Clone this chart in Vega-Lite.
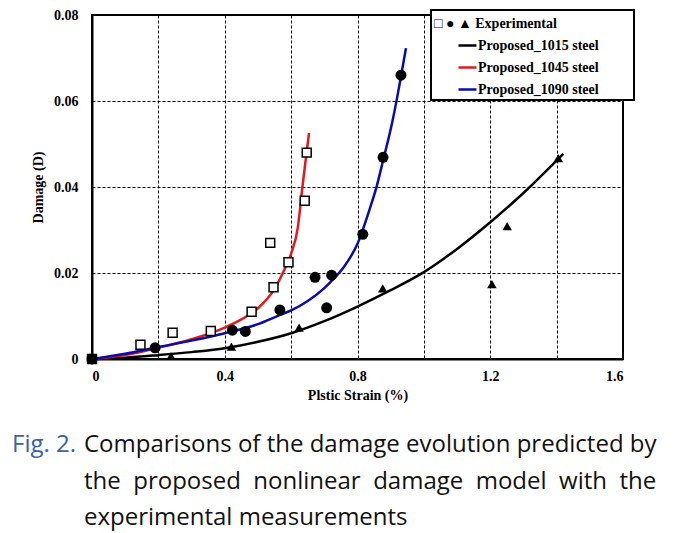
{
  "$schema": "https://vega.github.io/schema/vega-lite/v6.json",
  "width": 531,
  "height": 344,
  "autosize": {"type": "none"},
  "padding": {"left": 92, "top": 15, "right": 50, "bottom": 174},
  "background": "white",
  "config": {
    "view": {"stroke": "black", "strokeWidth": 2},
    "axis": {
      "labelFont": "Liberation Serif", "labelFontWeight": "bold", "labelFontSize": 14, "labelColor": "black",
      "titleFont": "Liberation Serif", "titleFontWeight": "bold", "titleFontSize": 14, "titleColor": "black",
      "domainColor": "black", "domainWidth": 2,
      "gridColor": "black", "gridDash": [3, 2], "gridWidth": 1, "gridOpacity": 1,
      "ticks": false
    },
    "legend": {
      "labelFont": "Liberation Serif", "labelFontWeight": "bold", "labelFontSize": 14, "labelColor": "black"
    }
  },
  "title": {
    "text": "Fig. 2.",
    "subtitle": [
      "\u200b\u2003\u2003\u2003Comparisons of the damage evolution predicted by",
      "\u200b\u2003\u2003\u2003the\u00a0 proposed\u00a0 nonlinear\u00a0 damage\u00a0 model\u00a0 with\u00a0 the",
      "\u200b\u2003\u2003\u2003experimental measurements"
    ],
    "orient": "bottom", "anchor": "start", "frame": "group",
    "dx": -80, "offset": 31,
    "font": "Open Sans", "fontSize": 24, "fontWeight": "normal", "color": "#3a62a6",
    "subtitleFont": "Open Sans", "subtitleFontSize": 24, "subtitleColor": "#111111",
    "subtitlePadding": -24, "subtitleLineHeight": 36.5
  },
  "datasets": {
    "curves": [
      {"model": "Proposed_1015 steel", "strain": 0, "damage": 0},
      {"model": "Proposed_1015 steel", "strain": 0.1, "damage": 0.0003},
      {"model": "Proposed_1015 steel", "strain": 0.2, "damage": 0.0009},
      {"model": "Proposed_1015 steel", "strain": 0.3, "damage": 0.0016},
      {"model": "Proposed_1015 steel", "strain": 0.4, "damage": 0.0025},
      {"model": "Proposed_1015 steel", "strain": 0.5, "damage": 0.004},
      {"model": "Proposed_1015 steel", "strain": 0.6, "damage": 0.006},
      {"model": "Proposed_1015 steel", "strain": 0.7, "damage": 0.0088},
      {"model": "Proposed_1015 steel", "strain": 0.8, "damage": 0.0122},
      {"model": "Proposed_1015 steel", "strain": 0.9, "damage": 0.016},
      {"model": "Proposed_1015 steel", "strain": 1.0, "damage": 0.0202},
      {"model": "Proposed_1015 steel", "strain": 1.1, "damage": 0.0256},
      {"model": "Proposed_1015 steel", "strain": 1.2, "damage": 0.0318},
      {"model": "Proposed_1015 steel", "strain": 1.3, "damage": 0.0386},
      {"model": "Proposed_1015 steel", "strain": 1.42, "damage": 0.0477},
      {"model": "Proposed_1045 steel", "strain": 0, "damage": 0},
      {"model": "Proposed_1045 steel", "strain": 0.1, "damage": 0.0009},
      {"model": "Proposed_1045 steel", "strain": 0.2, "damage": 0.0026},
      {"model": "Proposed_1045 steel", "strain": 0.3, "damage": 0.0046},
      {"model": "Proposed_1045 steel", "strain": 0.4, "damage": 0.0073},
      {"model": "Proposed_1045 steel", "strain": 0.45, "damage": 0.0092},
      {"model": "Proposed_1045 steel", "strain": 0.5, "damage": 0.0118},
      {"model": "Proposed_1045 steel", "strain": 0.55, "damage": 0.0163},
      {"model": "Proposed_1045 steel", "strain": 0.58, "damage": 0.0208},
      {"model": "Proposed_1045 steel", "strain": 0.6, "damage": 0.0245},
      {"model": "Proposed_1045 steel", "strain": 0.62, "damage": 0.0305},
      {"model": "Proposed_1045 steel", "strain": 0.634, "damage": 0.04},
      {"model": "Proposed_1045 steel", "strain": 0.645, "damage": 0.047},
      {"model": "Proposed_1045 steel", "strain": 0.654, "damage": 0.0526},
      {"model": "Proposed_1090 steel", "strain": 0, "damage": 0},
      {"model": "Proposed_1090 steel", "strain": 0.1, "damage": 0.0012},
      {"model": "Proposed_1090 steel", "strain": 0.2, "damage": 0.0028},
      {"model": "Proposed_1090 steel", "strain": 0.3, "damage": 0.0043},
      {"model": "Proposed_1090 steel", "strain": 0.4, "damage": 0.006},
      {"model": "Proposed_1090 steel", "strain": 0.5, "damage": 0.0081},
      {"model": "Proposed_1090 steel", "strain": 0.565, "damage": 0.0102},
      {"model": "Proposed_1090 steel", "strain": 0.6, "damage": 0.0113},
      {"model": "Proposed_1090 steel", "strain": 0.65, "damage": 0.0135},
      {"model": "Proposed_1090 steel", "strain": 0.7, "damage": 0.0165},
      {"model": "Proposed_1090 steel", "strain": 0.72, "damage": 0.018},
      {"model": "Proposed_1090 steel", "strain": 0.76, "damage": 0.0215},
      {"model": "Proposed_1090 steel", "strain": 0.8, "damage": 0.0268},
      {"model": "Proposed_1090 steel", "strain": 0.836, "damage": 0.0347},
      {"model": "Proposed_1090 steel", "strain": 0.858, "damage": 0.0402},
      {"model": "Proposed_1090 steel", "strain": 0.876, "damage": 0.0458},
      {"model": "Proposed_1090 steel", "strain": 0.891, "damage": 0.0505},
      {"model": "Proposed_1090 steel", "strain": 0.905, "damage": 0.0552},
      {"model": "Proposed_1090 steel", "strain": 0.918, "damage": 0.0602},
      {"model": "Proposed_1090 steel", "strain": 0.931, "damage": 0.0657},
      {"model": "Proposed_1090 steel", "strain": 0.946, "damage": 0.0723}
    ],
    "exp": [
      {"steel": "1045", "strain": 0, "damage": 0},
      {"steel": "1045", "strain": 0.146, "damage": 0.0033},
      {"steel": "1045", "strain": 0.243, "damage": 0.0061},
      {"steel": "1045", "strain": 0.358, "damage": 0.0065},
      {"steel": "1045", "strain": 0.481, "damage": 0.011},
      {"steel": "1045", "strain": 0.537, "damage": 0.027},
      {"steel": "1045", "strain": 0.547, "damage": 0.0167},
      {"steel": "1045", "strain": 0.592, "damage": 0.0225},
      {"steel": "1045", "strain": 0.641, "damage": 0.0368},
      {"steel": "1045", "strain": 0.647, "damage": 0.048},
      {"steel": "1090", "strain": 0, "damage": 0},
      {"steel": "1090", "strain": 0.19, "damage": 0.0026},
      {"steel": "1090", "strain": 0.423, "damage": 0.0067},
      {"steel": "1090", "strain": 0.462, "damage": 0.0064},
      {"steel": "1090", "strain": 0.566, "damage": 0.0114},
      {"steel": "1090", "strain": 0.672, "damage": 0.019},
      {"steel": "1090", "strain": 0.707, "damage": 0.0119},
      {"steel": "1090", "strain": 0.722, "damage": 0.0195},
      {"steel": "1090", "strain": 0.816, "damage": 0.029},
      {"steel": "1090", "strain": 0.877, "damage": 0.0469},
      {"steel": "1090", "strain": 0.931, "damage": 0.066},
      {"steel": "1015", "strain": 0, "damage": 0},
      {"steel": "1015", "strain": 0.238, "damage": 0.0007},
      {"steel": "1015", "strain": 0.42, "damage": 0.0029},
      {"steel": "1015", "strain": 0.624, "damage": 0.0073},
      {"steel": "1015", "strain": 0.876, "damage": 0.0164},
      {"steel": "1015", "strain": 1.205, "damage": 0.0174},
      {"steel": "1015", "strain": 1.251, "damage": 0.0309},
      {"steel": "1015", "strain": 1.405, "damage": 0.0467}
    ]
  },
  "layer": [
    {
      "data": {"name": "curves"},
      "mark": {"type": "line", "strokeWidth": 2.5, "interpolate": "monotone"},
      "encoding": {
        "x": {
          "field": "strain", "type": "quantitative",
          "scale": {"domain": [0, 1.6], "nice": false, "zero": true},
          "axis": {
            "title": "Plstic Strain (%)",
            "values": [0, 0.2, 0.4, 0.6, 0.8, 1.0, 1.2, 1.4, 1.6],
            "labelExpr": "round(datum.value*10) % 4 != 0 ? '' : (datum.value == 0 ? '0' : format(datum.value, '.1f'))",
            "labelPadding": 10, "titlePadding": 5, "grid": true
          }
        },
        "y": {
          "field": "damage", "type": "quantitative",
          "scale": {"domain": [0, 0.08], "nice": false},
          "axis": {
            "title": "Damage (D)",
            "values": [0, 0.02, 0.04, 0.06, 0.08],
            "labelExpr": "datum.value == 0 ? '0' : format(datum.value, '.2f')",
            "labelPadding": 14, "titleX": -47, "titleY": 172, "grid": true
          }
        },
        "color": {
          "field": "model", "type": "nominal",
          "scale": {
            "domain": ["Experimental", "Proposed_1015 steel", "Proposed_1045 steel", "Proposed_1090 steel"],
            "range": ["rgba(0,0,0,0)", "black", "#e3191c", "#0b0ba8"]
          },
          "legend": {
            "title": null, "orient": "none", "legendX": 339, "legendY": -5,
            "symbolType": "stroke", "symbolSize": 324, "symbolStrokeWidth": 2.5,
            "symbolOffset": 23, "padding": 3, "rowPadding": 4, "labelOffset": 0, "labelLimit": 400,
            "fillColor": "white", "strokeColor": "black",
            "labelExpr": "datum.value == 'Experimental' ? '□ ● ▲ Experimental' : datum.label + '\u00a0\u00a0\u00a0\u00a0\u00a0\u00a0\u00a0\u00a0\u00a0\u200b'",
            "encode": {
              "labels": {"update": {"dx": {"signal": "datum.value == 'Experimental' ? -44 : 0"}}},
              "legend": {"update": {"strokeWidth": {"value": 2}}}
            }
          }
        }
      }
    },
    {
      "data": {"name": "exp"},
      "transform": [{"filter": "datum.steel == '1045'"}],
      "mark": {"type": "point", "shape": "square", "filled": true, "fill": "white", "stroke": "black", "strokeWidth": 1.5, "size": 80, "opacity": 1},
      "encoding": {
        "x": {"field": "strain", "type": "quantitative"},
        "y": {"field": "damage", "type": "quantitative"}
      }
    },
    {
      "data": {"name": "exp"},
      "transform": [{"filter": "datum.steel == '1090'"}],
      "mark": {"type": "point", "shape": "circle", "filled": true, "color": "black", "size": 120, "opacity": 1},
      "encoding": {
        "x": {"field": "strain", "type": "quantitative"},
        "y": {"field": "damage", "type": "quantitative"}
      }
    },
    {
      "data": {"name": "exp"},
      "transform": [{"filter": "datum.steel == '1015'"}],
      "mark": {"type": "point", "shape": "triangle-up", "filled": true, "color": "black", "size": 90, "opacity": 1},
      "encoding": {
        "x": {"field": "strain", "type": "quantitative"},
        "y": {"field": "damage", "type": "quantitative"}
      }
    }
  ]
}
